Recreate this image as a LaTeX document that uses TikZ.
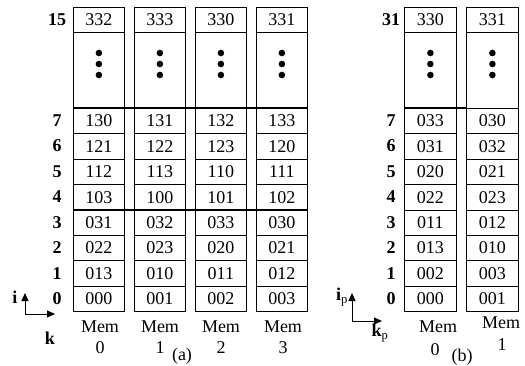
\documentclass[tikz,border=0pt]{standalone}
\usepackage{fontspec}
\setmainfont{Liberation Serif}
\usetikzlibrary{arrows.meta}
\begin{document}
\begin{tikzpicture}[x=1pt,y=-1pt,
  txt/.style={font=\fontsize{18}{18}\selectfont, inner sep=0pt},
  lbl/.style={font=\fontsize{18}{18}\selectfont\bfseries, inner sep=0pt},
  cell/.style={draw, line width=0.8pt, minimum height=25.4pt, inner sep=0pt,
    anchor=north west, font=\fontsize{18}{18}\selectfont},
  dotbox/.style={draw, line width=0.8pt, minimum height=76pt, inner sep=0pt, anchor=north west},
  sep/.style={line width=2pt},
  axis/.style={line width=0.9pt, -{Triangle[length=8pt,width=7pt]}}]
\useasboundingbox (0,0) rectangle (525,366);

% ---------- (a): four memories, 16 rows each ----------
\foreach \c/\x/\top/\vals in {
  0/73/332/{000,013,022,031,103,112,121,130},
  1/134/333/{001,010,023,032,100,113,122,131},
  2/195/330/{002,011,020,033,101,110,123,132},
  3/256/331/{003,012,021,030,102,111,120,133}}{
  \node[cell, minimum width=51pt] (a\c-15) at (\x,7) {\top};
  \node[dotbox, minimum width=51pt] (a\c-dots) at (\x,32) {};
  \foreach \v [count=\r from 0] in \vals {
    \node[cell, minimum width=51pt] (a\c-\r) at (\x,{108+(7-\r)*25.4}) {\v};
  }
  \foreach \dy in {-11,0,11}
    \fill ([yshift=-\dy pt]a\c-dots.north) ++(0,32) circle (3.3pt);
}
\foreach \r in {0,...,7}
  \node[lbl] (ar\r) at (57,{120.7+(7-\r)*25.4}) {\r};
\node[lbl] (ar15) at (57,19.5) {15};
\draw[sep] (a0-7.north west) -- (a3-7.north east);
\draw[sep] (a0-3.north west) -- (a3-3.north east);

\foreach \c/\x in {0/100,1/160,2/221,3/283}{
  \node[txt] (am\c) at (\x,327) {Mem};
  \node[txt] (an\c) at (\x,348) {\c};
}
\node[txt] (acap) at (182,356) {(a)};

\coordinate (ao) at (25,314);
\coordinate (ai) at (25,293);
\coordinate (ak) at (55,314);
\draw[axis] (ao) -- (ai);
\draw[axis] (ao) -- (ak);
\node[lbl] (ail) at (15,297) {i};
\node[lbl] (akl) at (50,338) {k};

% ---------- (b): two memories, 32 rows each ----------
\foreach \c/\x/\top/\vals in {
  0/404/330/{000,002,013,011,022,020,031,033},
  1/466/331/{001,003,010,012,023,021,032,030}}{
  \node[cell, minimum width=52pt] (b\c-31) at (\x,7) {\top};
  \node[dotbox, minimum width=52pt] (b\c-dots) at (\x,32) {};
  \foreach \v [count=\r from 0] in \vals {
    \node[cell, minimum width=52pt] (b\c-\r) at (\x,{108+(7-\r)*25.4}) {\v};
  }
  \foreach \dy in {-11,0,11}
    \fill ([yshift=-\dy pt]b\c-dots.north) ++(0,32) circle (3.3pt);
}
\foreach \r in {0,...,7}
  \node[lbl] (br\r) at (391,{120.7+(7-\r)*25.4}) {\r};
\node[lbl] (br31) at (391,19.5) {31};
\draw[sep] (b0-7.north west) -- (b1-7.north west);

\node[txt] (bm0) at (438,327) {Mem};
\node[txt] (bn0) at (435,350) {0};
\node[txt] (bm1) at (501,323) {Mem};
\node[txt] (bn1) at (502,345) {1};
\node[txt] (bcap) at (462,357) {(b)};

\coordinate (bo) at (352,321);
\coordinate (bi) at (352,293);
\coordinate (bk) at (382,321);
\draw[axis] (bo) -- (bi);
\draw[axis] (bo) -- (bk);
\node[lbl] (bil) at (342,297) {i\textsubscript{\normalfont p}};
\node[lbl] (bkl) at (380,333) {k\textsubscript{\normalfont p}};
\end{tikzpicture}
\end{document}
